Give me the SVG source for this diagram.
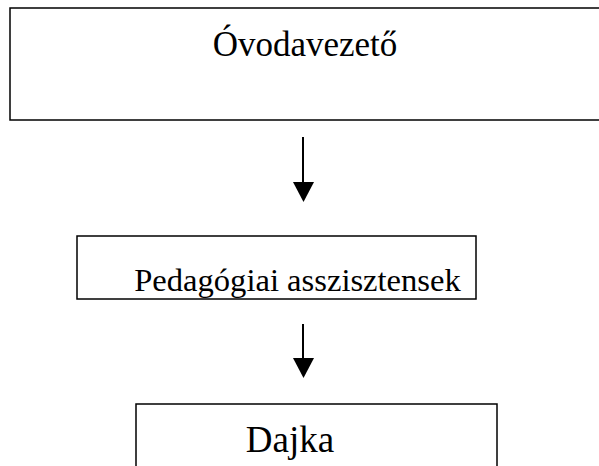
<svg xmlns="http://www.w3.org/2000/svg" width="599" height="466" viewBox="0 0 599 466">
  <style>
    .box { fill: #ffffff; stroke: #000000; stroke-width: 1.5; }
    .label { font-family: "Liberation Serif", "Times New Roman", serif; fill: #000000; text-anchor: middle; }
    .conn { stroke: #000000; stroke-width: 2; fill: none; }
    .head { fill: #000000; stroke: none; }
  </style>
  <defs>
    <clipPath id="clip2"><rect x="77" y="236" width="399" height="63"/></clipPath>
  </defs>
  <rect x="0" y="0" width="599" height="466" fill="#ffffff"/>
  <g id="node-ovodavezeto">
    <rect class="box" x="10" y="8" width="600" height="112"/>
    <text class="label" x="305" y="56" font-size="35">Óvodavezető</text>
  </g>
  <g id="node-pedagogiai">
    <rect class="box" x="77" y="236" width="399" height="63"/>
    <text class="label" x="297.5" y="291" font-size="32.6" clip-path="url(#clip2)">Pedagógiai asszisztensek</text>
  </g>
  <g id="node-dajka">
    <rect class="box" x="136" y="404" width="361" height="80"/>
    <text class="label" x="290" y="452" font-size="37">Dajka</text>
  </g>
  <g id="connectors">
    <line class="conn" x1="303" y1="137" x2="303" y2="184"/>
    <polygon class="head" points="293,182 314,182 303.5,202"/>
    <line class="conn" x1="303" y1="324" x2="303" y2="360"/>
    <polygon class="head" points="293,358 314,358 303.5,378"/>
  </g>
</svg>
